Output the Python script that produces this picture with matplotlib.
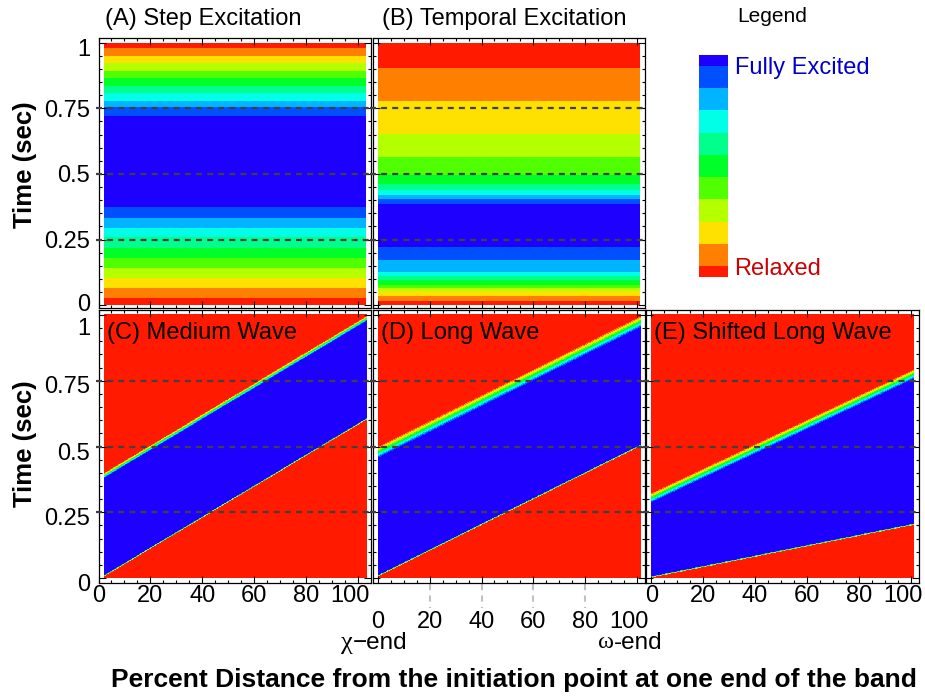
import numpy as np
import matplotlib
matplotlib.use('Agg')
import matplotlib.pyplot as plt
import matplotlib.transforms as mtransforms
from matplotlib.colors import ListedColormap, BoundaryNorm

plt.rcParams['font.family'] = ['Liberation Sans', 'DejaVu Sans']

# 11 levels, 0 = relaxed (red) ... 10 = fully excited (blue)
level_colors = ['#ff1a00', '#ff8000', '#ffe100', '#b4ff00', '#50ff00', '#00ff28',
                '#00ff8c', '#00ffe6', '#00b4ff', '#0050ff', '#1e00ff']
band_levels = [0, 1, 2, 3, 4, 5, 6, 7, 8, 9, 10, 9, 8, 7, 6, 5, 4, 3, 2, 1, 0]

# (A) step excitation: time edges of the bands (sec)
step_edges = [0, 0.026, 0.064, 0.102, 0.140, 0.178, 0.216, 0.261, 0.293, 0.331, 0.373,
              0.721, 0.755, 0.779, 0.808, 0.836, 0.865, 0.893, 0.923, 0.950, 0.980, 1.0]
# (B) temporal excitation
temporal_edges = [0, 0.016, 0.035, 0.052, 0.065, 0.076, 0.094, 0.111, 0.127, 0.172, 0.221,
                  0.387, 0.403, 0.418, 0.439, 0.461, 0.494, 0.563, 0.652, 0.776, 0.905, 1.0]

# (C)-(E) waves: onset line (sharp) and relaxation line (graded), time at 0 % and 100 %
wave_titles = ['(C) Medium Wave', '(D) Long Wave', '(E) Shifted Long Wave']
onset_start = [0.005, 0.005, 0.0]
onset_end = [0.60, 0.50, 0.20]
relax_start = [0.398, 0.499, 0.322]
relax_end = [0.994, 0.994, 0.791]
relax_width = [0.020, 0.045, 0.038]

y_ticks = [0, 0.25, 0.5, 0.75, 1]
y_labels = ['0', '0.25', '0.5', '0.75', '1']
x_ticks = [0, 20, 40, 60, 80, 100]
guide_times = [0.25, 0.5, 0.75]

W, H = 925, 696
fig = plt.figure(figsize=(W / 100, H / 100), dpi=100)
cmap = ListedColormap(level_colors)
norm = BoundaryNorm(np.arange(-0.5, 11.5, 1), cmap.N)

def px_axes(l, t, r, b):
    return fig.add_axes([l / W, 1 - b / H, (r - l) / W, (b - t) / H])

def fig_text(x, y, s, **kw):
    return fig.text(x / W, 1 - y / H, s, **kw)

def shift(lbl, dx, dy):
    lbl.set_transform(lbl.get_transform() +
                      mtransforms.ScaledTranslation(dx / 100, -dy / 100, fig.dpi_scale_trans))

def style_axes(ax, ylim, xoff, xlabels, ylabels, xpad=1.5, yshifts=None):
    ax.set_xlim(0, 105)
    ax.set_ylim(*ylim)
    ax.set_xticks([v + xoff for v in x_ticks])
    ax.set_xticks(np.arange(xoff, 105, 5), minor=True)
    ax.set_yticks(y_ticks)
    ax.set_yticks(np.arange(0, 1.01, 0.05), minor=True)
    ax.set_xticklabels([str(v) for v in x_ticks] if xlabels else [])
    ax.set_yticklabels(y_labels if ylabels else [])
    ax.tick_params(which='both', direction='in', top=True, right=True, width=0.8,
                   labelsize=17, pad=xpad)
    ax.tick_params(axis='y', pad=6)
    ax.tick_params(which='major', length=5)
    ax.tick_params(which='minor', length=2.5)
    for sp in ax.spines.values():
        sp.set_linewidth(0.9)
    for t in guide_times:
        ax.axhline(t, xmin=-0.01, xmax=1.0, color='#404040', lw=1.6,
                   ls=(0, (2.7, 2.3)), clip_on=False, zorder=3)
    if xlabels:
        shift(ax.get_xticklabels()[-1], -8, 0)
    if ylabels and yshifts:
        for lbl, dy in zip(ax.get_yticklabels(), yshifts):
            shift(lbl, 0, dy)

cols = [(98.5, 371), (372.5, 645), (646, 918.5)]
top_row = (37.7, 308)
bot_row = (310, 583)
top_ylim = (-0.011, 1.019)
bot_ylim = (-0.019, 1.019)

# (A) and (B)
for i, (edges, title) in enumerate([(step_edges, '(A) Step Excitation'),
                                    (temporal_edges, '(B) Temporal Excitation')]):
    l, r = cols[i]
    ax = px_axes(l, top_row[0], r, top_row[1])
    ax.pcolormesh([2, 103], edges, np.array(band_levels)[:, None], cmap=cmap, norm=norm)
    style_axes(ax, top_ylim, 0 if i == 0 else 2, False, i == 0,
               yshifts=[-3, 0, 0, 0, 5])
    fig_text(l + 6.5 if i == 0 else l + 10, 25, title, fontsize=17, va='baseline')

# (C), (D), (E)
xs = np.linspace(2, 103, 700)
ts = np.linspace(0, 1, 700)
X, T = np.meshgrid(xs, ts)
frac = (X - 2) / 101
for i in range(3):
    l, r = cols[i]
    ax = px_axes(l, bot_row[0], r, bot_row[1])
    onset = onset_start[i] + (onset_end[i] - onset_start[i]) * frac
    relax = relax_start[i] + (relax_end[i] - relax_start[i]) * frac
    up = np.clip((T - onset) / 0.006, 0, 1)
    down = np.clip((relax - T) / relax_width[i], 0, 1)
    level = 10 * np.minimum(up, down)
    ax.imshow(level, extent=[2, 103, 0, 1], origin='lower', aspect='auto',
              cmap=cmap, norm=norm, interpolation='nearest')
    xoff = 0 if i == 0 else 2
    style_axes(ax, bot_ylim, xoff, True, i == 0, xpad=20 if i == 1 else 1.5,
               yshifts=[4, 4, 5, 4, 12])
    ax.text(0.03, 0.955, wave_titles[i], transform=ax.transAxes, fontsize=17,
            va='top', ha='left')
    if i == 1:
        trans = mtransforms.blended_transform_factory(ax.transData, ax.transAxes)
        for v in x_ticks[1:-1]:
            ax.plot([v + xoff, v + xoff], [-0.004, -0.092], transform=trans,
                    color='#c0c0c0', lw=1.5, ls=(0, (3, 2.5)), clip_on=False)

# axis labels
fig_text(25, 165, 'Time (sec)', fontsize=18.5, fontweight='bold', rotation=90,
         ha='center', va='center')
fig_text(25, 444, 'Time (sec)', fontsize=18.5, fontweight='bold', rotation=90,
         ha='center', va='center')
fig_text(514, 680, 'Percent Distance from the initiation point at one end of the band',
         fontsize=19, fontweight='bold', ha='center', va='center')
fig_text(353, 643, 'χ', fontsize=19, family='Liberation Serif', ha='right', va='center')
fig_text(353, 643, '−end', fontsize=17.5, ha='left', va='center')
fig_text(614, 643, 'ω', fontsize=17.5, family='Liberation Serif', ha='right', va='center')
fig_text(614, 643, '-end', fontsize=17.5, ha='left', va='center')

# legend bar
lax = px_axes(699, 55, 728, 277)
lax.pcolormesh([0, 1], np.arange(-0.5, 11.5, 1), np.arange(11)[:, None], cmap=cmap, norm=norm)
lax.set_ylim(0, 10)
lax.set_xlim(0, 1)
lax.axis('off')
fig_text(737, 17, 'Legend', fontsize=15, va='center')
fig_text(735, 68, 'Fully Excited', fontsize=17, color='#0000cc', va='center')
fig_text(734, 269, 'Relaxed', fontsize=17, color='#cc0000', va='center')

fig.savefig('out.png', dpi=100)
